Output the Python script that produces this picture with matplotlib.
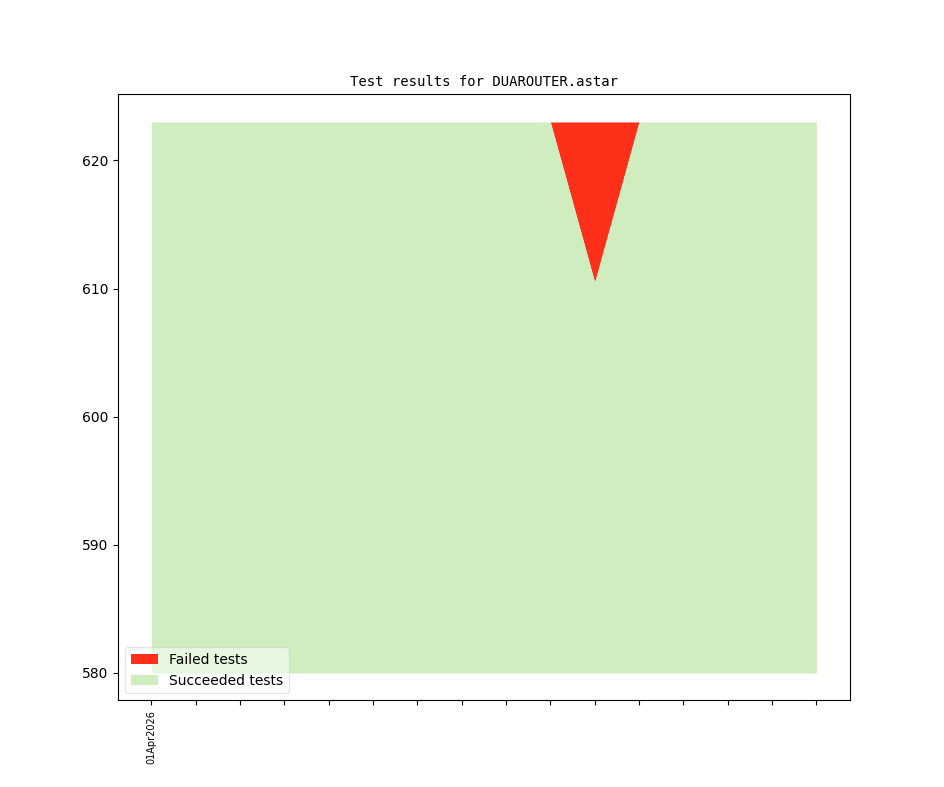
import matplotlib
matplotlib.use('Agg')
import matplotlib.pyplot as plt

# test counts per run
base = 580
total = [623] * 16
succeeded = [623, 623, 623, 623, 623, 623, 623, 623, 623, 623, 610.5, 623, 623, 623, 623, 623]
labels = ['01Apr2026'] + [''] * 15

x = list(range(len(total)))

fig, ax = plt.subplots(figsize=(9.44, 7.87), dpi=100)

ax.fill_between(x, succeeded, total, color='#ff3019', linewidth=0, label='Failed tests')
ax.fill_between(x, base, succeeded, color='#cfedbf', linewidth=0, label='Succeeded tests')

ax.set_title('Test results for DUAROUTER.astar', fontsize=10, family='DejaVu Sans Mono')
ax.set_xticks(x)
ax.set_xticklabels(labels, rotation=90, fontsize=7)
ax.legend(loc='lower left', framealpha=0.5)

fig.savefig('out.png')
